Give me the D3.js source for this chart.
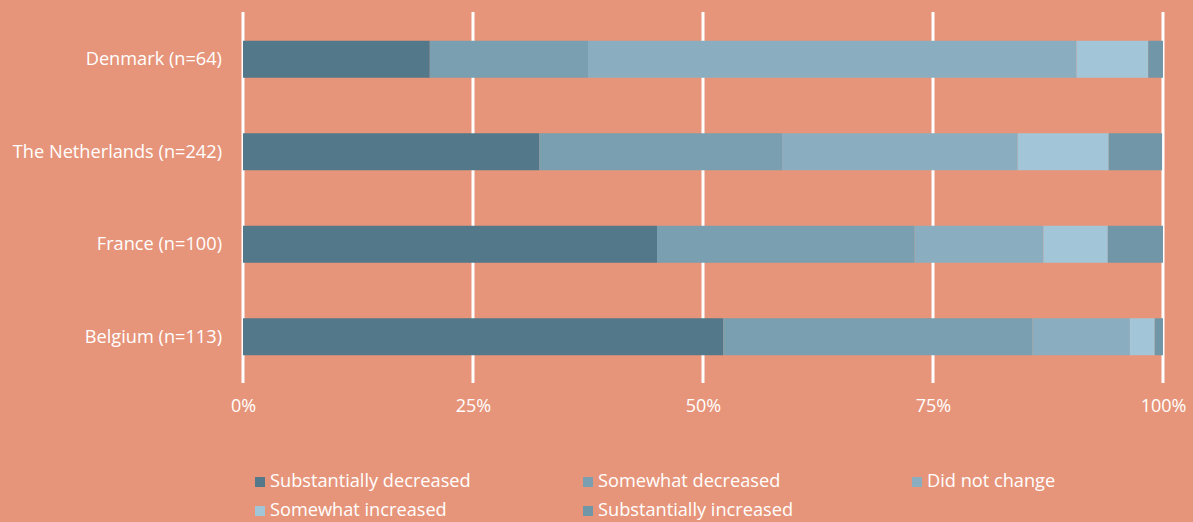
<!DOCTYPE html>
<html><head><meta charset="utf-8">
<script src="https://cdn.jsdelivr.net/npm/d3@7/dist/d3.min.js"></script>
<style>
html,body{margin:0;padding:0;background:#e7957a;}
svg{display:block;}
text{font-family:"Open Sans",sans-serif;fill:#fff;}
</style></head><body>
<svg id="chart" width="1193" height="522"></svg>
<script>
const categories = ["Denmark (n=64)", "The Netherlands (n=242)", "France (n=100)", "Belgium (n=113)"];
const seriesNames = ["Substantially decreased", "Somewhat decreased", "Did not change", "Somewhat increased", "Substantially increased"];
const substantiallyDecreased = [20.3, 32.2, 45, 52.2];
const somewhatDecreased = [17.2, 26.4, 28, 33.6];
const didNotChange = [53.1, 25.6, 14, 10.6];
const somewhatIncreased = [7.8, 9.9, 7, 2.7];
const substantiallyIncreased = [1.6, 5.8, 6, 0.9];
const tickValues = [0, 25, 50, 75, 100];
const tickLabels = ["0%", "25%", "50%", "75%", "100%"];
const colors = ["#527889", "#7a9fb0", "#8aaec0", "#a2c6d7", "#7196a8"];

const seriesValues = [substantiallyDecreased, somewhatDecreased, didNotChange, somewhatIncreased, substantiallyIncreased];
const rows = categories.map((c, i) => {
  const r = {cat: c};
  seriesNames.forEach((s, j) => r[s] = seriesValues[j][i]);
  return r;
});
const stack = d3.stack().keys(seriesNames)(rows);

const svg = d3.select("#chart");
const x = d3.scaleLinear().domain([0, 100]).range([243, 1163]);
const y = d3.scaleBand().domain(categories).range([13, 383]).paddingInner(0.6).paddingOuter(0.3);

// gridlines
svg.append("g").selectAll("line").data(tickValues).join("line")
  .attr("x1", d => x(d)).attr("x2", d => x(d))
  .attr("y1", 12).attr("y2", 383)
  .attr("stroke", "#fff").attr("stroke-width", 3);

// bars
svg.append("g").selectAll("g").data(stack).join("g")
  .attr("fill", (d, i) => colors[i])
  .selectAll("rect").data(d => d).join("rect")
  .attr("x", d => x(d[0]))
  .attr("width", d => x(d[1]) - x(d[0]))
  .attr("y", d => y(d.data.cat))
  .attr("height", y.bandwidth());

// x axis labels
const xAxis = d3.axisBottom(x).tickValues(tickValues).tickFormat((d, i) => tickLabels[i]).tickSize(0).tickPadding(0);
const gx = svg.append("g").attr("transform", "translate(0,399)").call(xAxis);
gx.select(".domain").remove();
gx.selectAll("text").style("font-family", "'Open Sans', sans-serif").style("font-size", "18px").attr("fill", "#fff");

// y axis labels
const yAxis = d3.axisLeft(y).tickSize(0).tickPadding(21);
const gy = svg.append("g").attr("transform", "translate(243,0)").call(yAxis);
gy.select(".domain").remove();
gy.selectAll("text").style("font-family", "'Open Sans', sans-serif").style("font-size", "18.2px").attr("fill", "#fff");

// legend
const legendPos = [[255, 481], [583, 481], [912, 481], [255, 510], [583, 510]];
const lg = svg.append("g").selectAll("g").data(seriesNames).join("g")
  .attr("transform", (d, i) => `translate(${legendPos[i][0]},${legendPos[i][1]})`);
lg.append("rect").attr("x", 0).attr("y", -4).attr("width", 10).attr("height", 10).attr("fill", (d, i) => colors[i]);
lg.append("text").attr("x", 15).attr("y", 0).attr("dy", "0.35em").style("font-size", "18.2px").text(d => d);
</script>
</body></html>
